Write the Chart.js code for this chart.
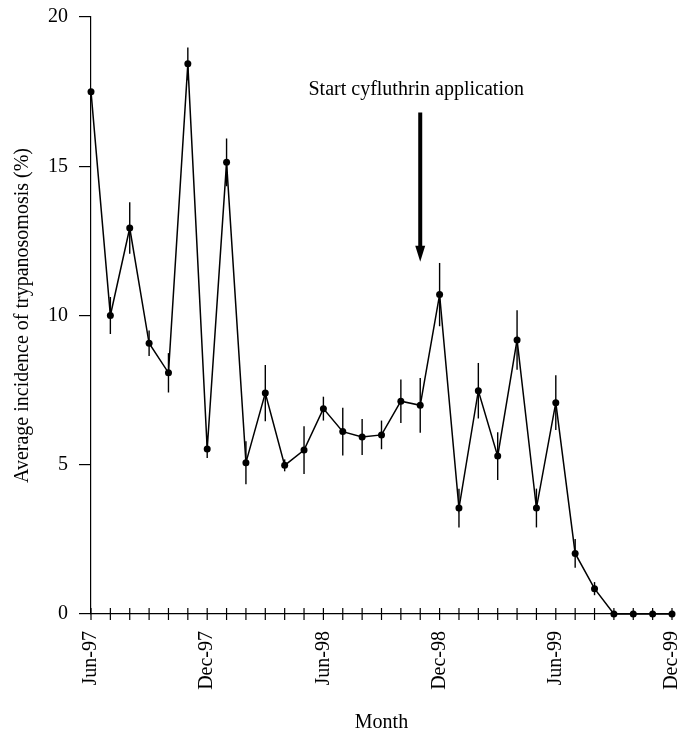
<!DOCTYPE html>
<html>
<head>
<meta charset="utf-8">
<script src="https://cdn.jsdelivr.net/npm/chart.js@4/dist/chart.umd.min.js"></script>
<style>
  html, body { margin: 0; padding: 0; background: #fff; }
  #wrap { width: 682px; height: 734px; }
</style>
</head>
<body>
<div id="wrap"><canvas id="chart-incidence" width="682" height="734"></canvas></div>
<script>
const months = ['Jun-97', 'Jul-97', 'Aug-97', 'Sep-97', 'Oct-97', 'Nov-97', 'Dec-97',
    'Jan-98', 'Feb-98', 'Mar-98', 'Apr-98', 'May-98', 'Jun-98', 'Jul-98', 'Aug-98',
    'Sep-98', 'Oct-98', 'Nov-98', 'Dec-98', 'Jan-99', 'Feb-99', 'Mar-99', 'Apr-99',
    'May-99', 'Jun-99', 'Jul-99', 'Aug-99', 'Sep-99', 'Oct-99', 'Nov-99', 'Dec-99'];
const incidence = [17.5, 10.0, 12.93, 9.07, 8.08, 18.43, 5.53, 15.13, 5.07, 7.4, 4.98,
    5.49, 6.88, 6.11, 5.93, 6.0, 7.13, 6.99, 10.7, 3.55, 7.48, 5.29, 9.18, 3.55, 7.08,
    2.03, 0.85, 0, 0, 0, 0];
const errors = [0, 0.62, 0.86, 0.43, 0.66, 0.55, 0.3, 0.8, 0.72, 0.94, 0.2, 0.8, 0.4,
    0.8, 0.6, 0.48, 0.73, 0.92, 1.06, 0.65, 0.93, 0.8, 1.0, 0.65, 0.92, 0.48, 0.22,
    0, 0, 0, 0];
const yTicks = [0, 5, 10, 15, 20];
const arrowMonth = 'Nov-98';
const arrowFrom = 16.8;
const arrowTo = 11.8;
const noteText = 'Start cyfluthrin application';
const noteY = 17.55;

const serif = "'Liberation Serif', 'Times New Roman', serif";

// error bars, x-axis tick marks and the annotation arrow
const extras = {
    id: 'extras',
    afterDatasetsDraw(chart) {
        const ctx = chart.ctx;
        const x = chart.scales.x;
        const y = chart.scales.y;
        ctx.save();
        ctx.strokeStyle = '#000';
        ctx.lineWidth = 1.4;
        incidence.forEach((v, i) => {
            if (!errors[i]) return;
            const px = x.getPixelForValue(i);
            ctx.beginPath();
            ctx.moveTo(px, y.getPixelForValue(v - errors[i]));
            ctx.lineTo(px, y.getPixelForValue(v + errors[i]));
            ctx.stroke();
        });

        ctx.lineWidth = 1.2;
        const base = y.getPixelForValue(0);
        months.forEach((m, i) => {
            const px = x.getPixelForValue(i);
            ctx.beginPath();
            ctx.moveTo(px, base - 6);
            ctx.lineTo(px, base + 6);
            ctx.stroke();
        });

        const ax = x.getPixelForValue(months.indexOf(arrowMonth));
        const top = y.getPixelForValue(arrowFrom);
        const tip = y.getPixelForValue(arrowTo);
        ctx.lineWidth = 4;
        ctx.beginPath();
        ctx.moveTo(ax, top);
        ctx.lineTo(ax, tip - 12);
        ctx.stroke();
        ctx.fillStyle = '#000';
        ctx.beginPath();
        ctx.moveTo(ax - 5, tip - 16);
        ctx.lineTo(ax + 5, tip - 16);
        ctx.lineTo(ax, tip);
        ctx.closePath();
        ctx.fill();

        ctx.font = '20px ' + serif;
        ctx.textAlign = 'center';
        ctx.textBaseline = 'middle';
        ctx.fillText(noteText, ax - 4, y.getPixelForValue(noteY));
        ctx.restore();
    }
};

new Chart(document.getElementById('chart-incidence'), {
    type: 'line',
    data: {
        labels: months,
        datasets: [{
            label: 'Incidence',
            data: incidence,
            borderColor: '#000',
            backgroundColor: '#000',
            borderWidth: 1.5,
            pointRadius: 3.5,
            pointBackgroundColor: '#000',
            pointBorderWidth: 0,
            tension: 0,
            clip: false
        }]
    },
    options: {
        responsive: false,
        animation: false,
        layout: {
            padding: { top: 17, right: 10, left: 0, bottom: 0 }
        },
        plugins: {
            legend: { display: false },
            tooltip: { enabled: false }
        },
        scales: {
            x: {
                offset: false,
                grid: { display: false },
                border: { display: true, color: '#000', width: 1.2 },
                afterFit: function (scale) {
                    scale.height = 120;
                    scale.paddingLeft = 0;
                    scale.paddingRight = 0;
                },
                ticks: {
                    autoSkip: false,
                    minRotation: 90,
                    maxRotation: 90,
                    padding: 9,
                    color: '#000',
                    font: { family: serif, size: 20 },
                    callback: function (val, i) {
                        return i % 6 === 0 ? months[i] : '';
                    }
                },
                title: {
                    display: true,
                    text: 'Month',
                    color: '#000',
                    font: { family: serif, size: 20, lineHeight: 1 },
                    padding: { top: 0, bottom: 1 }
                }
            },
            y: {
                min: 0,
                max: 20,
                afterFit: function (scale) {
                    scale.width = 91;
                    scale.paddingTop = 0;
                    scale.paddingBottom = 0;
                },
                afterBuildTicks: function (scale) {
                    scale.ticks = yTicks.map(v => ({ value: v }));
                },
                grid: {
                    drawOnChartArea: false,
                    drawTicks: true,
                    tickLength: 12,
                    color: '#000',
                    lineWidth: 1.2
                },
                border: { display: true, color: '#000', width: 1.2 },
                ticks: {
                    padding: 11,
                    color: '#000',
                    font: { family: serif, size: 20 }
                },
                title: {
                    display: true,
                    text: 'Average incidence of trypanosomosis (%)',
                    color: '#000',
                    font: { family: serif, size: 20 },
                    padding: { top: 11, bottom: 0 }
                }
            }
        }
    },
    plugins: [extras]
});
</script>
</body>
</html>
